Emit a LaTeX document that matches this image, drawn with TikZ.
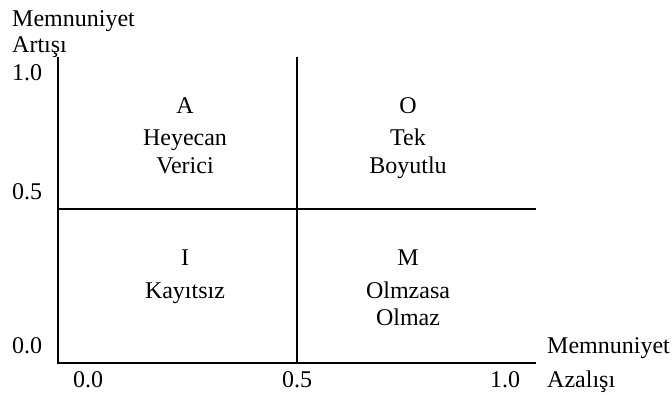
\documentclass[tikz,border=0pt]{standalone}
\usepackage{fontspec}
\setmainfont{Liberation Serif}
\begin{document}
\begin{tikzpicture}[x=1pt,y=-1pt,
  lbl/.style={inner sep=0pt,font=\fontsize{24}{27}\selectfont},
  axisline/.style={line width=2pt}]
\useasboundingbox (0,0) rectangle (672,394);

% frame corners and quadrant dividers
\coordinate (o)  at (58,363);
\coordinate (yt) at (58,57);
\coordinate (xr) at (536,363);
\coordinate (ml) at (58,209);
\coordinate (mr) at (536,209);
\coordinate (mt) at (297,57);
\coordinate (mb) at (297,363);

\draw[axisline] (yt) -- (o) -- (xr);
\draw[axisline] (ml) -- (mr);
\draw[axisline] (mt) -- (mb);

% vertical axis title and ticks
\node[lbl,anchor=base west] (ytitle1) at (12,26) {Memnuniyet};
\node[lbl,anchor=base west] (ytitle2) at (12,52) {Artışı};
\node[lbl,anchor=base west] (y10) at (12,80) {1.0};
\node[lbl,anchor=base west] (y05) at (12,199) {0.5};
\node[lbl,anchor=base west] (y00) at (12,353) {0.0};

% horizontal axis ticks and title
\node[lbl,anchor=base] (x00) at (88,387) {0.0};
\node[lbl,anchor=base] (x05) at (297,387) {0.5};
\node[lbl,anchor=base] (x10) at (505,387) {1.0};
\node[lbl,anchor=base west] (xtitle1) at (547,353) {Memnuniyet};
\node[lbl,anchor=base west] (xtitle2) at (547,387) {Azalışı};

% quadrant A
\node[lbl,anchor=base] (qa)  at (185,113) {A};
\node[lbl,anchor=base] (qa1) at (185,145) {Heyecan};
\node[lbl,anchor=base] (qa2) at (185,173) {Verici};
% quadrant O
\node[lbl,anchor=base] (qo)  at (408,113) {O};
\node[lbl,anchor=base] (qo1) at (408,145) {Tek};
\node[lbl,anchor=base] (qo2) at (408,173) {Boyutlu};
% quadrant I
\node[lbl,anchor=base] (qi)  at (185,265) {I};
\node[lbl,anchor=base] (qi1) at (185,298) {Kayıtsız};
% quadrant M
\node[lbl,anchor=base] (qm)  at (408,265) {M};
\node[lbl,anchor=base] (qm1) at (408,298) {Olmzasa};
\node[lbl,anchor=base] (qm2) at (408,325) {Olmaz};
\end{tikzpicture}
\end{document}
